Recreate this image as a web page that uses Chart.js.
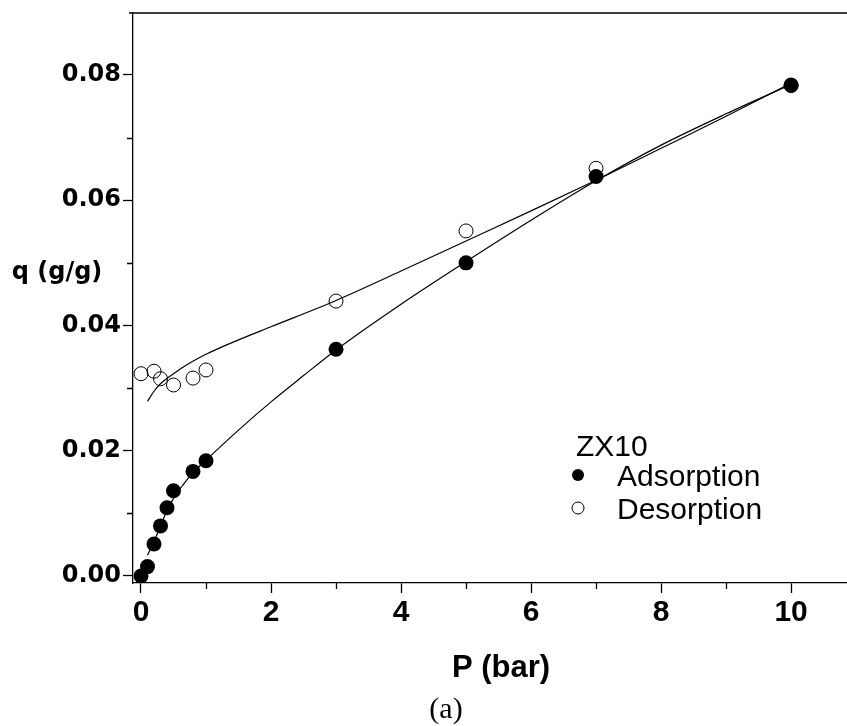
<!DOCTYPE html>
<html>
<head>
<meta charset="utf-8">
<script src="https://cdn.jsdelivr.net/npm/chart.js@4.4.0/dist/chart.umd.min.js"></script>
<style>
  html, body { margin: 0; padding: 0; background: #fff; overflow: hidden; }
  #wrap { position: relative; width: 847px; height: 726px; }
  #chart { display: block; }
</style>
</head>
<body>
<div id="wrap"><canvas id="chart" width="847" height="726"></canvas></div>
<script>
// measured points (P in bar, q in g/g)
const adsP = [0, 0.1, 0.2, 0.3, 0.4, 0.5, 0.8, 1.0, 3, 5, 7, 10];
const adsQ = [0, 0.0015, 0.0051, 0.0080, 0.0109, 0.0136, 0.0167, 0.0184, 0.0362, 0.0500, 0.0638, 0.0784];
const desP = [0, 0.2, 0.3, 0.5, 0.8, 1.0, 3, 5, 7, 10];
const desQ = [0.0323, 0.0327, 0.0315, 0.0305, 0.0316, 0.0329, 0.0439, 0.0551, 0.0651, 0.0783];

// fitted curves
const adsFitP = [0.1, 0.2, 0.3, 0.4, 0.5, 0.65, 0.8, 1, 1.5, 2, 2.5, 3, 4, 5, 6, 7, 8, 9, 10];
const adsFitQ = [0.0033, 0.0055, 0.0080, 0.0104, 0.0124, 0.0146, 0.0165, 0.0185, 0.0233, 0.0278, 0.0320, 0.0361, 0.0434, 0.0502, 0.0568, 0.0631, 0.0688, 0.0738, 0.0785];
const desFitP = [0.1, 0.2, 0.3, 0.5, 0.75, 1, 1.5, 2, 3, 4, 5, 6, 7, 8, 9, 10];
const desFitQ = [0.0279, 0.0295, 0.0307, 0.0323, 0.0340, 0.0354, 0.0377, 0.0398, 0.0440, 0.0487, 0.0535, 0.0583, 0.0632, 0.0683, 0.0734, 0.0787];

// axes
const xTicks = [0, 2, 4, 6, 8, 10];
const xMinor = [1, 3, 5, 7, 9];
const yTicks = [0, 0.02, 0.04, 0.06, 0.08];
const yMinor = [0.01, 0.03, 0.05, 0.07];
const xTitle = 'P (bar)';
const yTitle = 'q (g/g)';
const caption = '(a)';
const legendTitle = 'ZX10';
const seriesNames = ['Adsorption', 'Desorption'];

const toXY = (xs, ys) => xs.map((x, i) => ({ x: x, y: ys[i] }));

// extra drawing: top frame line, minor ticks, titles, legend
const decorations = {
    id: 'decorations',
    afterDraw(chart) {
        const ctx = chart.ctx;
        const area = chart.chartArea;
        const xs = chart.scales.x;
        const ys = chart.scales.y;
        ctx.save();
        ctx.strokeStyle = '#000';
        ctx.lineWidth = 1.3;

        // top line of the frame
        ctx.beginPath();
        ctx.moveTo(area.left - 4, area.top);
        ctx.lineTo(area.right, area.top);
        ctx.stroke();

        // minor ticks
        ctx.beginPath();
        xMinor.forEach(v => {
            const px = Math.round(xs.getPixelForValue(v)) + 0.5;
            ctx.moveTo(px, area.bottom);
            ctx.lineTo(px, area.bottom + 6);
        });
        yMinor.forEach(v => {
            const py = Math.round(ys.getPixelForValue(v)) + 0.5;
            ctx.moveTo(area.left, py);
            ctx.lineTo(area.left - 6, py);
        });
        ctx.stroke();

        ctx.fillStyle = '#000';

        // axis titles
        ctx.textAlign = 'center';
        ctx.textBaseline = 'middle';
        ctx.font = 'bold 24px "DejaVu Sans"';
        ctx.fillText(yTitle, 57, 273);
        ctx.textBaseline = 'alphabetic';
        ctx.font = 'bold 31px "Liberation Sans", Arial';
        ctx.fillText(xTitle, 501, 677);
        ctx.font = '30px "Liberation Serif", "Times New Roman"';
        ctx.fillText(caption, 446, 718);

        // legend
        ctx.textAlign = 'left';
        ctx.font = '30px "Liberation Sans", Arial';
        ctx.fillText(legendTitle, 576, 456);
        ctx.fillText(seriesNames[0], 617, 486);
        ctx.fillText(seriesNames[1], 617, 519);

        ctx.beginPath();
        ctx.arc(578, 475, 6, 0, Math.PI * 2);
        ctx.fill();
        ctx.beginPath();
        ctx.lineWidth = 1;
        ctx.arc(578, 508, 6, 0, Math.PI * 2);
        ctx.stroke();
        ctx.restore();
    }
};

const noPad = s => {
    s.paddingLeft = 0;
    s.paddingRight = 0;
    s.paddingTop = 0;
    s.paddingBottom = 0;
};

const ctx = document.getElementById('chart').getContext('2d');
new Chart(ctx, {
    type: 'scatter',
    data: {
        datasets: [
            {
                label: seriesNames[0],
                data: toXY(adsP, adsQ),
                pointStyle: 'circle',
                pointRadius: 7.5,
                pointBackgroundColor: '#000',
                pointBorderColor: '#000',
                pointBorderWidth: 0,
                order: 1
            },
            {
                label: seriesNames[1],
                data: toXY(desP, desQ),
                pointStyle: 'circle',
                pointRadius: 7,
                pointBackgroundColor: 'rgba(255,255,255,0)',
                pointBorderColor: '#000',
                pointBorderWidth: 1,
                order: 2
            },
            {
                label: seriesNames[0] + ' fit',
                data: toXY(adsFitP, adsFitQ),
                showLine: true,
                pointRadius: 0,
                borderColor: '#000',
                borderWidth: 1.2,
                cubicInterpolationMode: 'monotone',
                order: 3
            },
            {
                label: seriesNames[1] + ' fit',
                data: toXY(desFitP, desFitQ),
                showLine: true,
                pointRadius: 0,
                borderColor: '#000',
                borderWidth: 1.2,
                cubicInterpolationMode: 'monotone',
                order: 4
            }
        ]
    },
    options: {
        responsive: false,
        animation: false,
        layout: { autoPadding: false, padding: { top: 13, left: 0, right: 0, bottom: 0 } },
        plugins: {
            legend: { display: false },
            tooltip: { enabled: false }
        },
        scales: {
            x: {
                type: 'linear',
                min: -0.123,
                max: 10.86,
                afterBuildTicks: s => { s.ticks = xTicks.map(v => ({ value: v })); },
                afterFit: s => { s.height = 143; noPad(s); },
                ticks: {
                    color: '#000',
                    padding: 2,
                    maxRotation: 0,
                    autoSkip: false,
                    font: { family: '"Liberation Sans", Arial', weight: 'bold', size: 30 },
                    callback: v => String(v)
                },
                grid: { drawOnChartArea: false, drawTicks: true, tickLength: 10, tickColor: '#000', tickWidth: 1.3 },
                border: { display: true, color: '#000', width: 1.3 }
            },
            y: {
                type: 'linear',
                min: -0.00112,
                max: 0.0899,
                afterBuildTicks: s => { s.ticks = yTicks.map(v => ({ value: v })); },
                afterFit: s => { s.width = 133; noPad(s); },
                ticks: {
                    color: '#000',
                    padding: 2,
                    autoSkip: false,
                    font: { family: '"DejaVu Sans"', weight: 'bold', size: 24 },
                    callback: v => v.toFixed(2)
                },
                grid: { drawOnChartArea: false, drawTicks: true, tickLength: 10, tickColor: '#000', tickWidth: 1.3 },
                border: { display: true, color: '#000', width: 1.3 }
            }
        }
    },
    plugins: [decorations]
});
</script>
</body>
</html>
